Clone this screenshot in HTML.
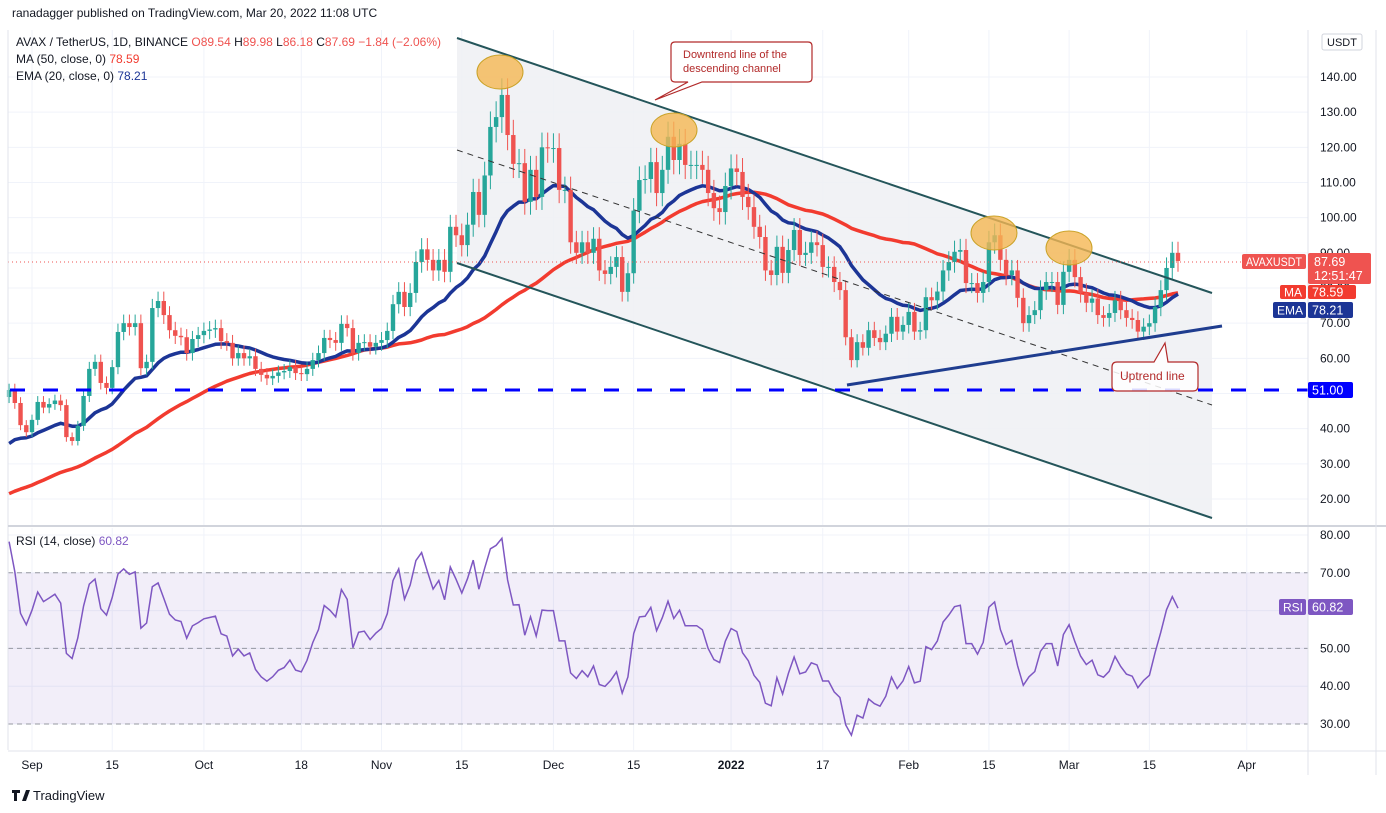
<!DOCTYPE html>
<html><head><meta charset="utf-8">
<style>
body{margin:0;background:#fff;font-family:"Liberation Sans",sans-serif;}
#wrap{position:relative;width:1386px;height:813px;overflow:hidden;}
svg text{font-family:"Liberation Sans",sans-serif;}
</style></head>
<body>
<div id="wrap">
<svg id="chart" width="1386" height="813" xmlns="http://www.w3.org/2000/svg">
<defs>
<clipPath id="pclip"><rect x="8" y="30" width="1300" height="495"/></clipPath>
<clipPath id="rclip"><rect x="8" y="528" width="1300" height="222"/></clipPath>
</defs>
</svg>
</div>
<script>
// ---------- DATA ----------
const preCloses = [12,12,12,12,12,11,11,11,11,11,12,12,12,13,13,13,13,13,13,13,13,13,13,13,14,14,15,15,16,18,20,22,20,22,23,25,28,30,28,32,34,31,36,38,42,39,44,43,48,46];
const startDay = -4; // Aug 28 2021 relative to Sep 1
const closes = [51,47.3,41,39,42.5,47.6,46,47,48,46.7,37.6,36.5,40.8,49.3,57,59,53,51.6,57.5,67.5,70,68.9,70,57.2,59,74.3,76.3,72.3,68,66.4,66,61.5,65.5,66.6,67.8,68.2,68.6,64.9,64.4,60,61.5,60,60.6,57,55.3,54.3,55,56,56.4,57.5,55.8,55.5,57,59.5,61.5,65.8,65.2,64.4,69.8,68.6,61.5,64.4,64.6,63.3,64.4,65.2,67.8,75.4,78.9,74.6,78.6,87.4,91,88,85,88,84.6,97.4,95,92.2,98,107.3,100.8,112,125.8,128.6,134.9,123.5,115.3,115.5,104.5,113.6,105.9,120,119.8,119.8,107.9,107.9,93,90,93,90,94,85,84,86,88.8,78.9,84.2,102,110.7,111,115.8,107,113.6,123,116.4,121,115,115,115,113.6,107,102.7,101.6,109,114,113,105.9,103,97.4,94.5,85,83.7,91.7,84.3,90.8,96.5,89.4,90,93,92.2,86,86,81.7,79.4,66,59.5,64.6,63,68,65.8,64.6,67,71.8,67.6,69.5,73.2,67.6,68,77.4,76.5,79,85,87.4,90.3,90.8,81.4,81.4,78.6,81.7,93,95,88,83.7,85,77.2,70,72.3,73.7,79.4,81.7,81.7,75.2,84.6,88,83.1,78.6,75.8,77,72.3,71.5,72.9,76.5,73.7,71.5,70.9,67.6,69,70,74.6,79.4,85.7,90,87.69];
const priceTicks = [140,130,120,110,100,90,80,70,60,50,40,30,20];
const rsiTicks = [80,70,60,50,40,30];
const timeLabels = ["Sep","15","Oct","18","Nov","15","Dec","15","2022","17","Feb","15","Mar","15","Apr"];
const timeDays = [0,14,30,47,61,75,91,105,122,138,153,167,181,195,212];

// ---------- SCALES ----------
const yP = p => 77 + (140 - p) * 3.5167;
const yR = r => 535 + (80 - r) * 3.78;
const xD = d => 32 + d * 5.73;
const NS = "http://www.w3.org/2000/svg";
const svg = document.getElementById('chart');
function mk(tag, attrs, parent) {
  const e = document.createElementNS(NS, tag);
  for (const k in attrs) e.setAttribute(k, attrs[k]);
  (parent || svg).appendChild(e);
  return e;
}
function txt(x, y, s, attrs, parent) {
  const t = mk('text', Object.assign({x: x, y: y, 'font-size': 12, fill: '#131722'}, attrs || {}), parent);
  t.textContent = s;
  return t;
}

// ---------- GRID ----------
const grid = mk('g', {});


priceTicks.forEach(p => mk('line', {x1: 8, x2: 1308, y1: yP(p), y2: yP(p), stroke: '#f0f3fa', 'stroke-width': 1}, grid));
rsiTicks.forEach(r => mk('line', {x1: 8, x2: 1308, y1: yR(r), y2: yR(r), stroke: '#f0f3fa', 'stroke-width': 1}, grid));
timeDays.forEach(d => {
  mk('line', {x1: xD(d), x2: xD(d), y1: 30, y2: 525, stroke: '#f0f3fa'}, grid);
  mk('line', {x1: xD(d), x2: xD(d), y1: 528, y2: 750, stroke: '#f0f3fa'}, grid);
});

// ---------- CHANNEL SHADING ----------
const chan = mk('polygon', {points: '457,38 1212,293 1212,518 457,263', fill: '#eef0f3', opacity: 0.85});



// ---------- RSI BAND ----------
const band = mk('rect', {x: 8, y: yR(70), width: 1300, height: yR(30) - yR(70), fill: '#7e57c2', opacity: 0.1});


[70, 50, 30].forEach(r => mk('line', {x1: 8, x2: 1308, y1: yR(r), y2: yR(r), stroke: '#9598a1', 'stroke-dasharray': '5 4', 'stroke-width': 1}));

// ---------- INDICATORS ----------
const all = preCloses.concat(closes);
const off = preCloses.length;
const ma50 = [], ema20 = [], rsi = [];
let ema = all[0];
const k = 2 / 21;
let ag = 0, al = 0;
for (let i = 0; i < all.length; i++) {
  ema = i === 0 ? all[0] : all[i] * k + ema * (1 - k);
  if (i >= 1) {
    const ch = all[i] - all[i - 1];
    const g = Math.max(ch, 0), l = Math.max(-ch, 0);
    if (i <= 14) { ag += g / 14; al += l / 14; }
    else { ag = (ag * 13 + g) / 14; al = (al * 13 + l) / 14; }
  }
  if (i >= off) {
    const s = all.slice(Math.max(0, i - 49), i + 1);
    ma50.push(s.reduce((a, b) => a + b, 0) / s.length);
    ema20.push(ema);
    rsi.push(al === 0 ? 100 : 100 - 100 / (1 + ag / al));
  }
}
function linePts(arr, yf) { return arr.map((v, i) => xD(startDay + i).toFixed(1) + ',' + yf(v).toFixed(1)).join(' '); }
const pg = mk('g', {'clip-path': 'url(#pclip)'});
const maLine = mk('polyline', {points: linePts(ma50, yP), fill: 'none', stroke: '#f23b2f', 'stroke-width': 3.5, 'stroke-linejoin': 'round'}, pg);


const emaLine = mk('polyline', {points: linePts(ema20, yP), fill: 'none', stroke: '#1c3596', 'stroke-width': 3.5, 'stroke-linejoin': 'round'}, pg);


const rg = mk('g', {'clip-path': 'url(#rclip)'});
const rsiLine = mk('polyline', {points: linePts(rsi, yR), fill: 'none', stroke: '#7e57c2', 'stroke-width': 1.5}, rg);



// ---------- CANDLES ----------
const cg = mk('g', {});


closes.forEach((c, i) => {
  const o = i === 0 ? 49 : closes[i - 1];
  const up = c >= o;
  const col = up ? '#26a69a' : '#ef5350';
  const x = xD(startDay + i);
  const hi = Math.max(o, c) * 1.035, lo = Math.min(o, c) * 0.965;
  mk('line', {x1: x, x2: x, y1: yP(hi), y2: yP(lo), stroke: col, 'stroke-width': 1}, cg);
  const top = yP(Math.max(o, c)), bot = yP(Math.min(o, c));
  const b = mk('rect', {x: x - 2.2, y: top, width: 4.4, height: Math.max(1, bot - top), fill: col}, cg);
  
  
});

// ---------- DRAWINGS ----------
const d1 = mk('line', {x1: 457, y1: 38, x2: 1212, y2: 293, stroke: '#24555a', 'stroke-width': 2});


const d2 = mk('line', {x1: 457, y1: 263, x2: 1212, y2: 518, stroke: '#24555a', 'stroke-width': 2});


const d3 = mk('line', {x1: 457, y1: 150, x2: 1212, y2: 405, stroke: '#333', 'stroke-width': 1, 'stroke-dasharray': '6 5'});


const d4 = mk('line', {x1: 847, y1: 385, x2: 1222, y2: 326, stroke: '#1f3d8f', 'stroke-width': 3});


const d5 = mk('line', {x1: 10, y1: 390, x2: 1308, y2: 390, stroke: '#0000ff', 'stroke-width': 3, 'stroke-dasharray': '15 18'});


const d6 = mk('line', {x1: 8, y1: 262, x2: 1308, y2: 262, stroke: '#ef5350', 'stroke-width': 1, 'stroke-dasharray': '1 3'});


[[500, 72], [674, 130], [994, 233], [1069, 248]].forEach(e => {
  const el = mk('ellipse', {cx: e[0], cy: e[1], rx: 23, ry: 17, fill: '#f5b653', 'fill-opacity': 0.8, stroke: '#c9a227', 'stroke-width': 1});
  
  
});
// callouts
const c1 = mk('path', {d: 'M675,42 H808 Q812,42 812,46 V78 Q812,82 808,82 H702 L655,100 L688,82 H675 Q671,82 671,78 V46 Q671,42 675,42 Z', fill: '#fff', stroke: '#b22a2a', 'stroke-width': 1.2});


txt(683, 58, 'Downtrend line of the', {fill: '#b22a2a', 'font-size': 11});
txt(683, 72, 'descending channel', {fill: '#b22a2a', 'font-size': 11});
const c2 = mk('path', {d: 'M1117,362 H1154 L1165,343 L1168,362 H1193 Q1198,362 1198,367 V386 Q1198,391 1193,391 H1117 Q1112,391 1112,386 V367 Q1112,362 1117,362 Z', fill: '#fff', stroke: '#b22a2a', 'stroke-width': 1.2, 'fill-opacity': 0.85});


txt(1120, 380, 'Uptrend line', {fill: '#b22a2a', 'font-size': 12});

// ---------- PANE BORDERS ----------
mk('line', {x1: 8, y1: 30, x2: 8, y2: 750, stroke: '#e0e3eb'});
mk('line', {x1: 1308, y1: 30, x2: 1308, y2: 775, stroke: '#e0e3eb'});
mk('line', {x1: 8, y1: 526, x2: 1386, y2: 526, stroke: '#d1d4dc', 'stroke-width': 2});
mk('line', {x1: 8, y1: 751, x2: 1386, y2: 751, stroke: '#e0e3eb'});
mk('line', {x1: 1376, y1: 30, x2: 1376, y2: 775, stroke: '#e0e3eb'});

// ---------- AXES ----------
const pa = mk('g', {});


priceTicks.forEach(p => txt(1320, yP(p) + 4, p.toFixed(2), {'font-size': 12}, pa));
const ra = mk('g', {});


rsiTicks.forEach(r => txt(1320, yR(r) + 4, r.toFixed(2), {'font-size': 12}, ra));
const ta = mk('g', {});


timeLabels.forEach((s, i) => txt(xD(timeDays[i]), 769, s, {'font-size': 12, 'text-anchor': 'middle', 'font-weight': s === '2022' ? 'bold' : 'normal'}, ta));
mk('rect', {x: 1322, y: 34, width: 40, height: 16, fill: '#fff', stroke: '#d1d4dc', rx: 2});
txt(1327, 46, 'USDT', {'font-size': 11});

// axis labels
function tag(x, y, w, h, fill, s, name, fs, fit) {
  const r = mk('rect', {x: x, y: y, width: w, height: h, fill: fill, rx: 2});
  
  
  const a = {fill: '#fff', 'font-size': fs || 12};
  if (fit) { a.textLength = w - 8; a.lengthAdjust = 'spacingAndGlyphs'; }
  txt(x + 4, y + h / 2 + 4.5, s, a);
}
tag(1242, 254, 64, 15, '#ef5350', 'AVAXUSDT', 'symbol-label', 12, true);
mk('rect', {x: 1308, y: 253, width: 63, height: 31, fill: '#ef5350', rx: 2});
txt(1314, 266, '87.69', {fill: '#fff', 'font-size': 12.5});
txt(1314, 280, '12:51:47', {fill: '#fff', 'font-size': 12.5});
tag(1280, 285, 26, 14, '#f23b2f', 'MA', 'ma-label');
tag(1308, 285, 48, 14, '#f23b2f', '78.59', 'ma-value-label', 12.5);
tag(1273, 302, 33, 16, '#1c3596', 'EMA', 'ema-label');
tag(1308, 302, 45, 16, '#1c3596', '78.21', 'ema-value-label', 12.5);
tag(1308, 382, 45, 16, '#0000ff', '51.00', 'support-value-label', 12.5);
tag(1279, 599, 27, 16, '#7e57c2', 'RSI', 'rsi-label');
tag(1308, 599, 45, 16, '#7e57c2', '60.82', 'rsi-value-label', 12.5);

// ---------- HEADER ----------
txt(12, 17, 'ranadagger published on TradingView.com, Mar 20, 2022 11:08 UTC', {'font-size': 12});
const h = txt(16, 46, '', {'font-size': 12});
h.innerHTML = '<tspan>AVAX / TetherUS, 1D, BINANCE </tspan><tspan fill="#ef5350">O</tspan><tspan fill="#ef5350">89.54 </tspan><tspan>H</tspan><tspan fill="#ef5350">89.98 </tspan><tspan>L</tspan><tspan fill="#ef5350">86.18 </tspan><tspan>C</tspan><tspan fill="#ef5350">87.69 −1.84 (−2.06%)</tspan>';


const m = txt(16, 63, '', {'font-size': 12});
m.innerHTML = '<tspan>MA (50, close, 0) </tspan><tspan fill="#f23b2f">78.59</tspan>';


const e2 = txt(16, 80, '', {'font-size': 12});
e2.innerHTML = '<tspan>EMA (20, close, 0) </tspan><tspan fill="#1c3596">78.21</tspan>';


const r2 = txt(16, 545, '', {'font-size': 12});
r2.innerHTML = '<tspan>RSI (14, close) </tspan><tspan fill="#7e57c2">60.82</tspan>';



// footer logo
const lg = mk('g', {});


mk('path', {d: 'M12,790 h8 v3 h-3 v8 h-3 v-8 h-2z M22,801 l4,-11 h4 l-4,11z', fill: '#131722'}, lg);
txt(33, 800, 'TradingView', {'font-size': 13, fill: '#131722'}, lg);
</script>
</body></html>
